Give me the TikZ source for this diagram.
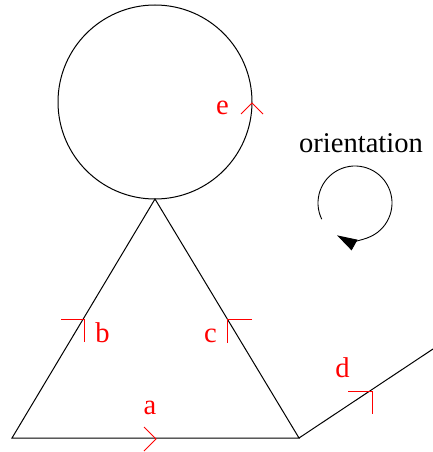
\documentclass[tikz,border=0pt]{standalone}
\usepackage{fontspec}
\setmainfont{Liberation Serif}
\usetikzlibrary{arrows.meta,calc}
\tikzset{
  edge/.style={draw=black, line width=1pt},
  tick/.style={draw=red, line width=0.9pt},
  lbl/.style={text=red, anchor=base, inner sep=0pt, font=\fontsize{28.6}{30}\selectfont},
  otext/.style={text=black, anchor=base, inner sep=0pt, font=\fontsize{28.6}{30}\selectfont}
}
\begin{document}
\begin{tikzpicture}[x=1pt,y=-1pt]
\useasboundingbox (0,0) rectangle (433,452);
% vertices
\coordinate (top) at (155,199);
\coordinate (bl) at (12,438);
\coordinate (br) at (299,438);
\coordinate (dend) at (433,349);
\coordinate (cc) at (155,102);
% shapes
\draw[edge] (cc) circle[radius=97];
\draw[edge] (bl) -- (br) -- (top) -- cycle;
\draw[edge] (br) -- (dend);
% ticks
\draw[tick] (61,319) -- (84,319) -- (84,342);
\draw[tick] (252,319) -- (227,319) -- (227,343);
\draw[tick] (348,391) -- (372,391) -- (372,414);
\draw[tick] (144,427) -- (156,439) -- (144,451);
\draw[tick] (241,114) -- (252,103) -- (263,114);
% labels
\node[lbl] (la) at (150,414) {a};
\node[lbl] (lb) at (102.5,342.5) {b};
\node[lbl] (lc) at (210.5,342.5) {c};
\node[lbl] (ld) at (342.5,377) {d};
\node[lbl] (le) at (222.5,114) {e};
\node[otext] (ot) at (361,152) {orientation};
% orientation loop
\coordinate (oc) at (355,203);
\draw[edge, line width=0.9pt, -{Triangle[length=20pt,width=12pt]}] ($(oc)+(154:37)$) arc[start angle=154, end angle=479, radius=37];
\end{tikzpicture}
\end{document}
